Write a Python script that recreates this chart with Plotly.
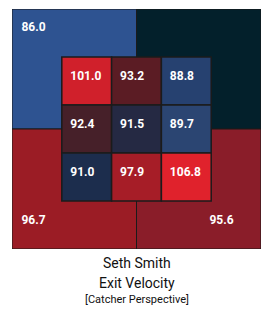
import plotly.graph_objects as go

# Outer quadrants (catcher perspective): top-left, top-right, bottom-left, bottom-right
outer_values = [86.0, None, 96.7, 95.6]
outer_colors = ["#2e5391", "#03202b", "#9b1c25", "#8a1d29"]

# Inner 3x3 strike zone, rows top to bottom, columns left to right
inner_values = [
    [101.0, 93.2, 88.8],
    [92.4, 91.5, 89.7],
    [91.0, 97.9, 106.8],
]
inner_colors = [
    ["#d0202b", "#5b1c24", "#264170"],
    ["#462029", "#252943", "#2b4572"],
    ["#1c2d4d", "#a61d27", "#e0222c"],
]

player = "Seth Smith"
metric = "Exit Velocity"
perspective = "[Catcher Perspective]"

fig = go.Figure()
shapes = []
border = "#1b1b1b"

# Outer quadrants on a 5x5 grid
quad_boxes = [(0, 2.5, 2.5, 5), (2.5, 5, 2.5, 5), (0, 2.5, 0, 2.5), (2.5, 5, 0, 2.5)]
for (x0, x1, y0, y1), c in zip(quad_boxes, outer_colors):
    shapes.append(dict(type="rect", xref="x", yref="y", x0=x0, x1=x1, y0=y0, y1=y1,
                       fillcolor=c, line=dict(color=border, width=1), layer="below"))

for r in range(3):
    for cidx in range(3):
        x0 = 1 + cidx
        y1 = 4 - r
        shapes.append(dict(type="rect", xref="x", yref="y", x0=x0, x1=x0 + 1, y0=y1 - 1, y1=y1,
                           fillcolor=inner_colors[r][cidx], line=dict(color=border, width=1.5),
                           layer="below"))

# Inner labels
tx, ty, tt = [], [], []
for r in range(3):
    for cidx in range(3):
        tx.append(1 + cidx + 0.17)
        ty.append(4 - r - 0.5 + 0.09)
        tt.append(f"{inner_values[r][cidx]:.1f}")
fig.add_trace(go.Scatter(x=tx, y=ty, text=tt, mode="text", textposition="middle right",
                         textfont=dict(family="Roboto", size=12, color="white", weight="bold"),
                         hoverinfo="skip", showlegend=False))

# Outer labels
fig.add_trace(go.Scatter(x=[0.19, 0.19], y=[4.6, 0.58],
                         text=[f"{outer_values[0]:.1f}", f"{outer_values[2]:.1f}"],
                         mode="text", textposition="middle right",
                         textfont=dict(family="Roboto", size=12, color="white", weight="bold"),
                         hoverinfo="skip", showlegend=False))
fig.add_trace(go.Scatter(x=[4.45], y=[0.58], text=[f"{outer_values[3]:.1f}"],
                         mode="text", textposition="middle left",
                         textfont=dict(family="Roboto", size=12, color="white", weight="bold"),
                         hoverinfo="skip", showlegend=False))

annotations = [
    dict(text=player, x=0.5, y=-13.5 / 240, xref="paper", yref="paper", showarrow=False,
         yanchor="middle", font=dict(family="Liberation Sans Narrow, Roboto", size=14, color="#111")),
    dict(text=metric, x=0.5, y=-34 / 240, xref="paper", yref="paper", showarrow=False,
         yanchor="middle", font=dict(family="Liberation Sans Narrow, Roboto", size=14, color="#111")),
    dict(text=perspective, x=0.5, y=-50.5 / 240, xref="paper", yref="paper", showarrow=False,
         yanchor="middle", font=dict(family="Liberation Sans Narrow, Roboto", size=11, color="#111")),
]

fig.update_layout(
    width=269, height=311,
    margin=dict(l=12, r=8, t=9, b=62),
    paper_bgcolor="white", plot_bgcolor="white",
    shapes=shapes, annotations=annotations,
    xaxis=dict(range=[0, 5], visible=False, fixedrange=True),
    yaxis=dict(range=[0, 5], visible=False, fixedrange=True),
    showlegend=False,
)

fig.write_html("out.html", config={"displayModeBar": False})
